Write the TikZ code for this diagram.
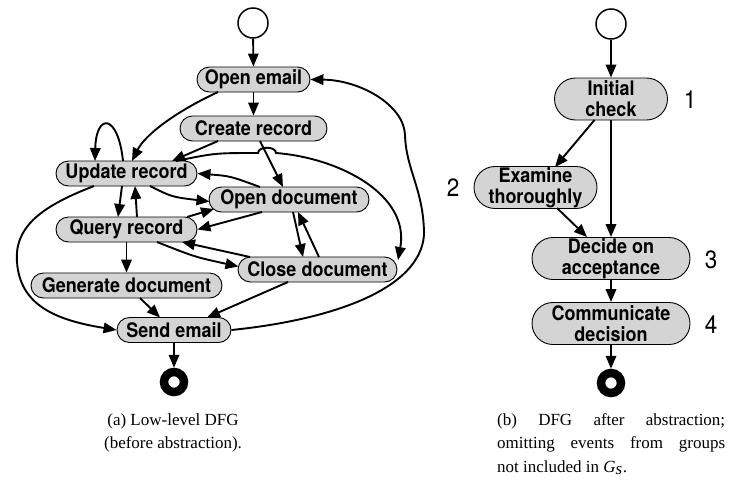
\documentclass[tikz,border=0pt]{standalone}
\usepackage{fontspec}
\setmainfont{Liberation Serif}
\newfontfamily\helv{TeX Gyre Heros}[FakeStretch=0.9]
\usetikzlibrary{arrows.meta}
\definecolor{boxgray}{gray}{0.83}
\begin{document}
\begin{tikzpicture}[x=1pt,y=-1pt,
  box/.style={draw=black, line width=0.9pt, fill=boxgray, rounded corners=12.5pt,
    minimum height=25pt, inner sep=0pt, font=\helv\bfseries\fontsize{20}{21}\selectfont},
  boxtwo/.style={box, rounded corners=21pt, minimum height=42pt, align=center},
  arr/.style={line width=1.9pt, -{Triangle[length=13pt,width=10.5pt]}},
  startc/.style={circle, draw, line width=1.5pt, minimum size=30pt, inner sep=0pt},
  endc/.style={circle, draw, line width=8.5pt, minimum size=20pt, inner sep=0pt},
  numlab/.style={font=\helv\fontsize{25}{25}\selectfont, inner sep=0pt},
  captext/.style={font=\fontsize{17}{23.5}\selectfont, inner sep=0pt}
]
\useasboundingbox (0,0) rectangle (730,501);

% ---------- left graph ----------
\node[startc] (s1) at (253,23) {};
\node[box, minimum width=113pt] (oe) at (253.5,79.5) {Open email};
\node[box, minimum width=147pt] (cr) at (253.5,128.5) {Create record};
\node[box, minimum width=141pt] (ur) at (126.5,173.5) {Update record};
\node[box, minimum width=160pt] (od) at (289,199.5) {Open document};
\node[box, minimum width=141pt] (qr) at (126.5,229.5) {Query record};
\node[box, minimum width=159pt] (cd) at (317.5,269.5) {Close document};
\node[box, minimum width=191pt] (gd) at (126.5,285.5) {Generate document};
\node[box, minimum width=114pt] (se) at (174,330) {Send email};
\node[endc] (e1) at (174,382) {};

\draw[arr] (s1) -- (oe);
\draw[arr] (oe) -- (cr);
\draw[arr] ([shift={(-35.5,12.5)}]oe.center) .. controls (175,112) and (145,135) .. ([shift={(5.5,-12.5)}]ur.center);
\draw[arr] ([shift={(-3.5,-12.5)}]ur.center) .. controls (118,113) and (96,113) .. ([shift={(-31.5,-12.5)}]ur.center);
\draw[arr] ([shift={(-35.5,12.5)}]cr.center) -- ([shift={(45.5,-12.5)}]ur.center);
\draw[arr] ([shift={(6.5,12.5)}]cr.center) -- ([shift={(-6,-12.5)}]od.center);
\draw[arr] ([shift={(49.5,-12.5)}]ur.center) .. controls (215,153) .. (258,153)
   .. controls (258,146) and (276,146) .. (276,153)
   .. controls (340,158) and (410,195) .. ([shift={(80.5,-9.5)}]cd.center);
\draw[arr] (se.east) .. controls (330,320) and (420,290) .. (424,235)
   .. controls (424,190) and (406,170) .. (405,135)
   .. controls (404,105) and (360,80) .. (oe.east);
\draw[arr] ([shift={(-4.5,12.5)}]ur.center) -- ([shift={(-8.5,-12.5)}]qr.center);
\draw[arr] ([shift={(10.5,-12.5)}]qr.center) -- ([shift={(8.5,12.5)}]ur.center);
\draw[arr] ([shift={(23.5,12.5)}]ur.center) .. controls (172,197) .. ([shift={(-79.5,2)}]od.center);
\draw[arr] ([shift={(-29,-12.5)}]od.center) .. controls (230,176) .. (ur.east);
\draw[arr] ([shift={(60.5,-12.5)}]qr.center) -- ([shift={(-75,9.5)}]od.center);
\draw[arr] ([shift={(-27,12.5)}]od.center) -- (qr.east);
\draw[arr] ([shift={(30.5,12.5)}]qr.center) .. controls (195,257) .. ([shift={(-79,-3)}]cd.center);
\draw[arr] ([shift={(-67.5,-12.5)}]cd.center) -- ([shift={(55.5,12.5)}]qr.center);
\draw[arr] ([shift={(4,12.5)}]od.center) -- ([shift={(-14.5,-12.5)}]cd.center);
\draw[arr] ([shift={(1.5,-12.5)}]cd.center) -- ([shift={(9,12.5)}]od.center);
\draw[arr] (qr.south) -- (gd.north);
\draw[arr] ([shift={(13.5,12.5)}]gd.center) -- ([shift={(-14,-12.5)}]se.center);
\draw[arr] ([shift={(-29.5,12.5)}]cd.center) -- ([shift={(33,-12.5)}]se.center);
\draw[arr] ([shift={(-32.5,12.5)}]ur.center) .. controls (45,205) and (14,225) .. (17,262)
   .. controls (20,305) and (55,320) .. (se.west);
\draw[arr] (se.south) -- (e1.north);

% ---------- right graph ----------
\node[startc] (s2) at (611,24) {};
\node[boxtwo, minimum width=113pt] (ic) at (611,99) {Initial\\check};
\node[boxtwo, minimum width=123pt] (et) at (535.5,187.5) {Examine\\thoroughly};
\node[boxtwo, minimum width=158pt] (da) at (611,258.5) {Decide on\\acceptance};
\node[boxtwo, minimum width=158pt] (cm) at (611,323.5) {Communicate\\decision};
\node[endc] (e2) at (611,383) {};
\node[numlab] (n1) at (690,100) {1};
\node[numlab] (n2) at (453,188) {2};
\node[numlab] (n3) at (711,260) {3};
\node[numlab] (n4) at (711,325) {4};

\draw[arr] (s2) -- (ic);
\draw[arr] ([shift={(-16.5,21)}]ic.center) -- ([shift={(19.5,-20.5)}]et.center);
\draw[arr] (ic.south) -- (da.north);
\draw[arr] ([shift={(21.5,20.5)}]et.center) -- ([shift={(-24,-21.5)}]da.center);
\draw[arr] (da) -- (cm);
\draw[arr] (cm) -- (e2);

% ---------- captions ----------
\node[captext, align=center, anchor=north] (capa) at (173,413) {(a) Low-level DFG\\(before abstraction).};
\node[captext, anchor=north west] (capb) at (497,413) {\parbox{228pt}{\fontsize{17}{23.5}\selectfont\noindent
(b)\hfill DFG\hfill after\hfill abstraction;\\
omitting\hfill events\hfill from\hfill groups\\
not included in \textit{G}$_{\textit{s}}$.}};
\end{tikzpicture}
\end{document}
